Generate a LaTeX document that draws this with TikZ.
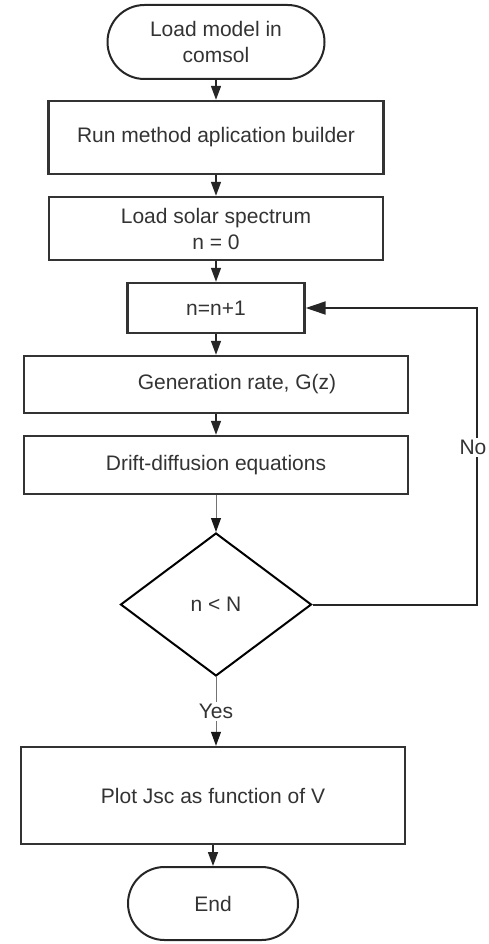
\documentclass[tikz,border=0pt]{standalone}
\usepackage{fontspec}
\setmainfont{Liberation Sans}
\usetikzlibrary{shapes.geometric,shapes.misc,arrows.meta}

\begin{document}
\begin{tikzpicture}[x=1pt,y=-1pt,
  font=\fontsize{21}{26}\selectfont, text=black!80,
  box/.style={draw=black!80, line width=2.4pt, rectangle, align=center, inner sep=0pt},
  term/.style={draw=black!85, line width=2pt, rounded rectangle, align=center, inner sep=0pt},
  flow/.style={draw=black!85, line width=1.6pt, -{Triangle[width=10pt,length=14pt]}},
  thinflow/.style={draw=black!55, line width=1pt, -{Triangle[width=10pt,length=14pt,color=black!90]}},
  back/.style={draw=black!85, line width=2pt, -{Triangle[width=13pt,length=20pt]}}]
\useasboundingbox (0,0) rectangle (488,944);
% steps
\node[term, minimum width=217pt, minimum height=74pt] (start) at (216,42) {Load model in\\comsol};
\node[box, minimum width=335pt, minimum height=73pt] (run) at (216,137.5) {Run method aplication builder};
\node[box, minimum width=334pt, minimum height=63pt] (solar) at (216,228.5) {Load solar spectrum\\n = 0};
\node[box, minimum width=177pt, minimum height=50pt] (inc) at (216,308) {n=n+1};
\node[box, minimum width=384pt, minimum height=57pt] (gen) at (216,384.5) {\hspace*{42pt}Generation rate, G(z)};
\node[box, minimum width=384pt, minimum height=58pt] (drift) at (216,465) {Drift-diffusion equations};
\node[draw=black, line width=2pt, diamond, inner sep=0pt, minimum width=191pt, minimum height=143pt] (dec) at (216,604.5) {n < N};
\node[box, minimum width=384pt, minimum height=97pt] (plot) at (213,795.5) {Plot Jsc as function of V};
\node[term, minimum width=170pt, minimum height=73pt] (end) at (213,903.5) {End};
\coordinate (loopx) at (477,0);
% connectors
\draw[flow] (start) -- (run);
\draw[flow] (run) -- (solar);
\draw[flow] (solar) -- (inc);
\draw[flow] (inc) -- (gen);
\draw[flow] (gen) -- (drift);
\draw[thinflow] (drift) -- (dec);
\draw[thinflow] (dec.south) -- node[fill=white, inner sep=2pt] {Yes} (dec.south |- plot.north);
\draw[flow] (plot) -- (end);
\draw[back] (dec.east) -- (dec.east -| loopx) -- node[pos=0.53, fill=white, inner sep=2pt, xshift=-4pt] {No} (inc.east -| loopx) -- (inc.east);
\end{tikzpicture}
\end{document}
